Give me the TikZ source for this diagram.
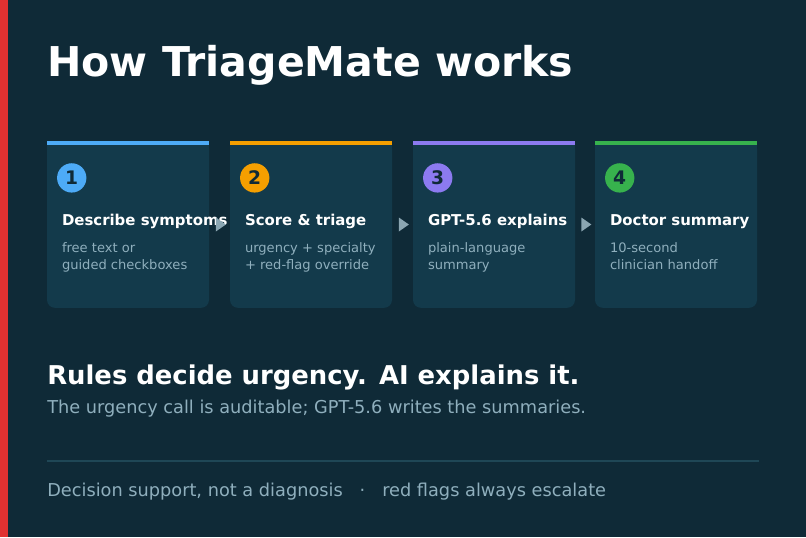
\documentclass[tikz,border=0pt]{standalone}
\usepackage{fontspec}
\setmainfont{DejaVu Sans}
\usetikzlibrary{shapes.geometric, positioning, calc}
\usepackage{xcolor}
\definecolor{bgDark}{HTML}{0F2A37}
\definecolor{cardFill}{HTML}{133A4B}
\definecolor{edgeRed}{HTML}{E03131}
\definecolor{stepBlue}{HTML}{4DABF7}
\definecolor{stepOrange}{HTML}{F59F00}
\definecolor{stepPurple}{HTML}{8C7AF0}
\definecolor{stepGreen}{HTML}{37B24D}
\definecolor{mutedText}{HTML}{8FAFBD}
\definecolor{ruleLine}{HTML}{1F4756}
\definecolor{arrowGray}{HTML}{8BA6B2}
\tikzset{
    x=0.75pt, y=-0.75pt,
    % Cards
    card/.style={rectangle, fill=cardFill, rounded corners=6pt,
                 minimum width=121.5pt, minimum height=125pt, inner sep=0pt},
    accent/.style={rectangle, minimum width=121.5pt, minimum height=3pt, inner sep=0pt, anchor=north},
    badge/.style={circle, minimum size=22pt, inner sep=0pt, text=bgDark,
                  font=\fontsize{14}{16}\selectfont\bfseries},
    % Text
    stepTitle/.style={anchor=base west, inner sep=0pt, text=white,
                      font=\fontsize{11.2}{13}\selectfont\bfseries},
    stepText/.style={anchor=base west, inner sep=0pt, text=mutedText, align=left,
                     font=\fontsize{9.8}{12.8}\selectfont},
    tip/.style={isosceles triangle, isosceles triangle apex angle=70, fill=arrowGray,
                minimum height=7.5pt, inner sep=0pt}
}
\begin{document}
\begin{tikzpicture}

\fill[bgDark] (0,0) rectangle (806,537);
\useasboundingbox (0,0) rectangle (806,537);
\fill[edgeRed] (0,0) rectangle (8,537);

\node[anchor=base west, inner sep=0pt, text=white, font=\fontsize{30.8}{36}\selectfont\bfseries]
    (title) at (47,76) {How TriageMate works};

% Step cards
\node[card] (c1) at (128,224.5) {};
\node[card] (c2) at (311,224.5) {};
\node[card] (c3) at (494,224.5) {};
\node[card] (c4) at (676,224.5) {};
\fill[cardFill] (c1.north west) rectangle (c1.east);
\fill[cardFill] (c2.north west) rectangle (c2.east);
\fill[cardFill] (c3.north west) rectangle (c3.east);
\fill[cardFill] (c4.north west) rectangle (c4.east);

\node[accent, fill=stepBlue] (bar1) at (c1.north) {};
\node[accent, fill=stepOrange] (bar2) at (c2.north) {};
\node[accent, fill=stepPurple] (bar3) at (c3.north) {};
\node[accent, fill=stepGreen] (bar4) at (c4.north) {};

\node[badge, fill=stepBlue] (n1) at ([shift={(25,37)}]c1.north west) {1};
\node[badge, fill=stepOrange] (n2) at ([shift={(25,37)}]c2.north west) {2};
\node[badge, fill=stepPurple] (n3) at ([shift={(25,37)}]c3.north west) {3};
\node[badge, fill=stepGreen] (n4) at ([shift={(25,37)}]c4.north west) {4};

\node[stepTitle] (t1) at ([shift={(15,85)}]c1.north west) {Describe symptoms};
\node[stepTitle] (t2) at ([shift={(15,85)}]c2.north west) {Score \& triage};
\node[stepTitle] (t3) at ([shift={(15,85)}]c3.north west) {GPT-5.6 explains};
\node[stepTitle] (t4) at ([shift={(15,85)}]c4.north west) {Doctor summary};

% base of a two-line node sits on its last line
\node[stepText] (d1) at ([shift={(15,129)}]c1.north west) {free text or\\guided checkboxes};
\node[stepText] (d2) at ([shift={(15,129)}]c2.north west) {urgency + specialty\\+ red-flag override};
\node[stepText] (d3) at ([shift={(15,129)}]c3.north west) {plain-language\\summary};
\node[stepText] (d4) at ([shift={(15,129)}]c4.north west) {10-second\\clinician handoff};

% Flow between steps
\path (c1.east) -- node[tip] (a12) {} (c2.west);
\path (c2.east) -- node[tip] (a23) {} (c3.west);
\path (c3.east) -- node[tip] (a34) {} (c4.west);

% Takeaway
\node[anchor=base west, inner sep=0pt, text=white, font=\fontsize{19.4}{23}\selectfont\bfseries]
    (claim) at (47,384) {Rules decide urgency. AI explains it.};
\node[anchor=base west, inner sep=0pt, text=mutedText, font=\fontsize{13.3}{16}\selectfont]
    (claimsub) at (47,413) {The urgency call is auditable; GPT-5.6 writes the summaries.};

\coordinate (ruleL) at (47,461);
\coordinate (ruleR) at (759,461);
\draw[ruleLine, line width=0.9pt] (ruleL) -- (ruleR);

\node[anchor=base west, inner sep=0pt, text=mutedText, font=\fontsize{13.3}{16}\selectfont]
    (footer) at (47,496) {Decision support, not a diagnosis\ \ \ ·\ \ \ red flags always escalate};

\end{tikzpicture}
\end{document}
